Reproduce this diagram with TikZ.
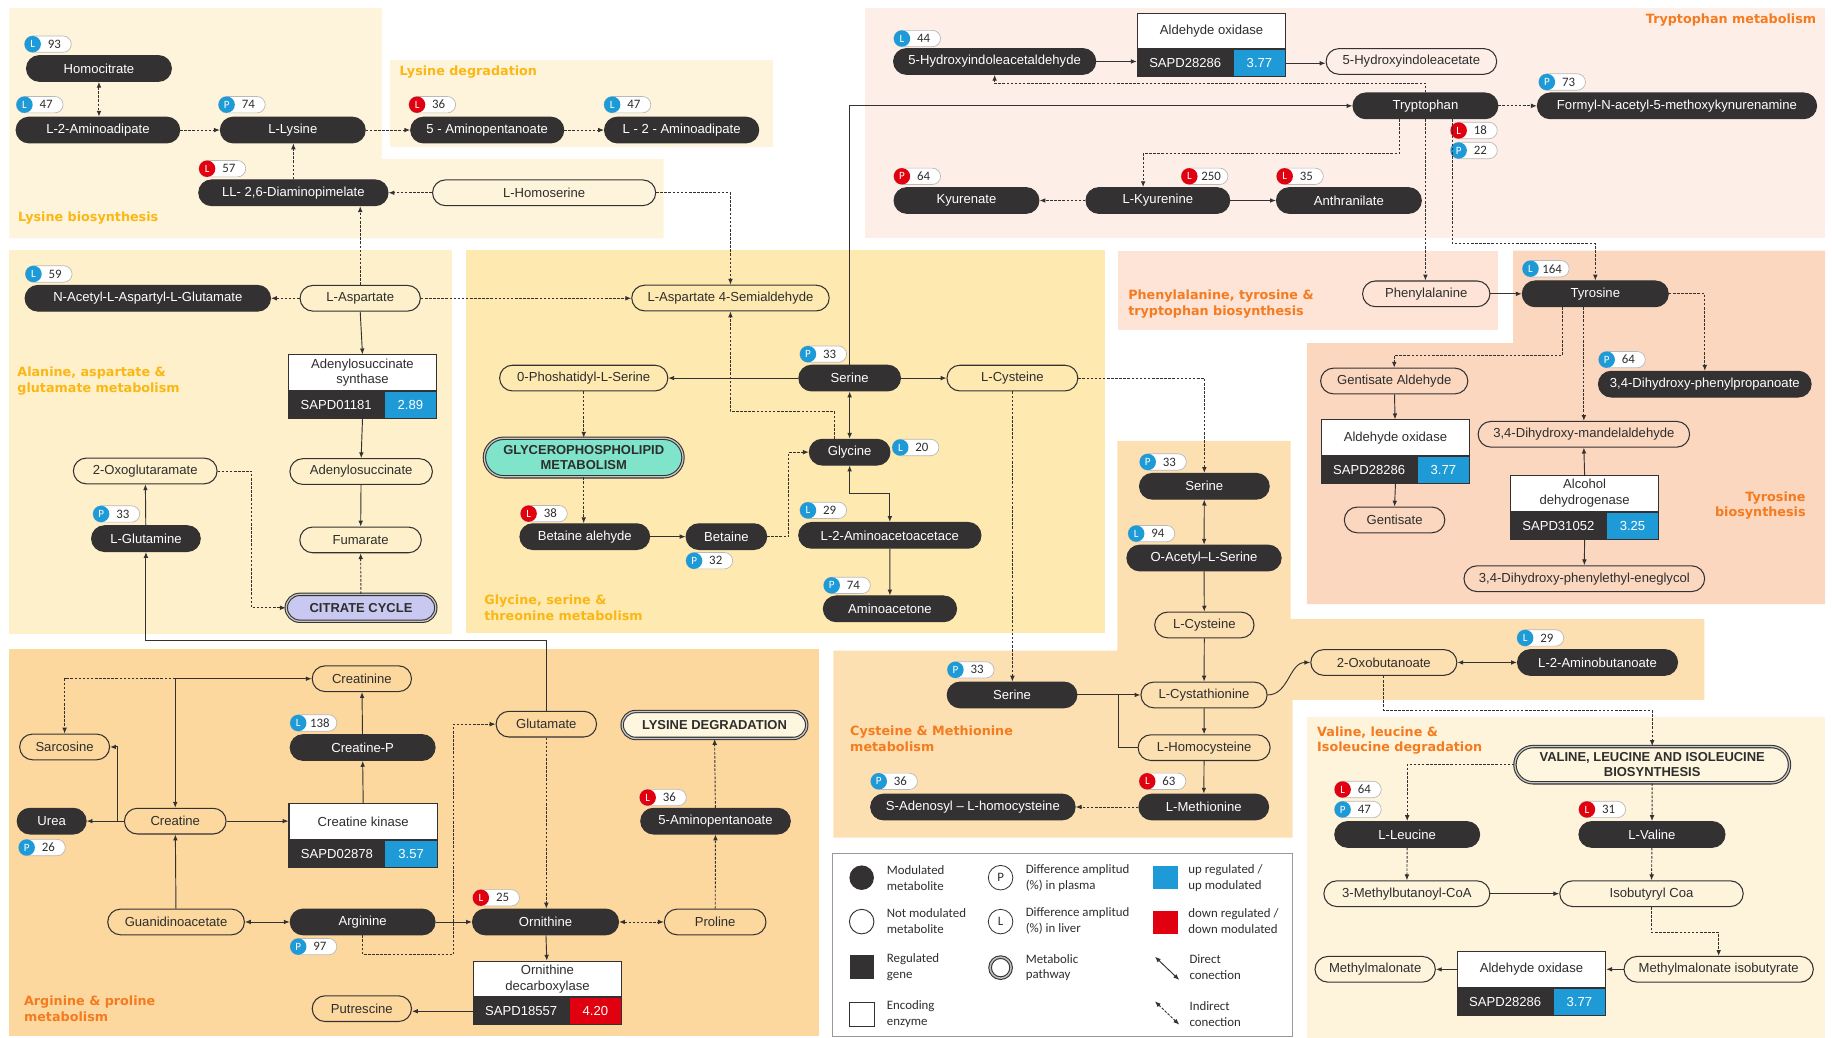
\documentclass[tikz,border=0pt]{standalone}
\usepackage{fontspec}
\setmainfont{Liberation Sans}
\newfontfamily\djv{DejaVu Sans}
\newfontfamily\carl{Carlito}
\usetikzlibrary{arrows.meta,calc}
\definecolor{dkc}{HTML}{333132}
\definecolor{txc}{HTML}{2E2E2E}
\definecolor{blu}{HTML}{1E9BD7}
\definecolor{rdd}{HTML}{E1000F}
\definecolor{ylw}{HTML}{FBB713}
\definecolor{org}{HTML}{F47B20}
\definecolor{bgLys}{HTML}{FEF4DC}
\definecolor{bgTrp}{HTML}{FDEFE7}
\definecolor{bgAla}{HTML}{FEF0CA}
\definecolor{bgGly}{HTML}{FEE9B0}
\definecolor{bgPhe}{HTML}{FDE4D6}
\definecolor{bgTyr}{HTML}{FCD7BF}
\definecolor{bgCys}{HTML}{FDE0B1}
\definecolor{bgArg}{HTML}{FDD89E}
\definecolor{bgVal}{HTML}{FEF3DB}
\definecolor{lav}{HTML}{C8C8F0}
\definecolor{teal}{HTML}{80E4CA}
\definecolor{crm}{HTML}{FEF6DE}
\newcommand{\fnode}{\fontsize{11.2}{13.4}\selectfont}
\newcommand{\fpath}{\fontsize{11.1}{13.4}\selectfont\bfseries}
\newcommand{\ftitle}{\djv\bfseries\fontsize{10.9}{13.4}\selectfont}
\newcommand{\flegend}{\carl\fontsize{11}{13.4}\selectfont}
\newcommand{\fbadge}{\carl\fontsize{11}{12}\selectfont}
\newcommand{\fbadgel}{\carl\fontsize{9.5}{10}\selectfont}
\newcommand{\bdg}[6]{%
  \node[bpill] (#1) at (#2+20,#3) {};
  \node[bcirc, fill=#5] (#1c) at (#2+7,#3) {#4};
  \node[bnum] (#1n) at (#2+25.5,#3) {#6};
}
\newcommand{\enz}[7]{%
  \node[enzt, anchor=north west] (#1) at (#2,#3) {#4};
  \node[enzg, anchor=north west] (#1g) at (#1.south west) {#5};
  \node[enzv, fill=#7, anchor=north east] (#1v) at (#1.south east) {#6};
}
\tikzset{
  >={Latex[length=5pt,width=4pt]},
  metb/.style={rectangle, rounded corners=11pt, minimum height=22pt, inner sep=0pt, font=\fnode},
  dk/.style={metb, fill=dkc, draw=dkc, line width=0.9pt, text=white, minimum width=#1pt},
  lt/.style={metb, draw=dkc, line width=0.9pt, text=txc, minimum width=#1pt},
  pw/.style={rectangle, draw=dkc, line width=0.9pt, double=gray!45, double distance=1.1pt, inner sep=0pt, align=center, font=\fpath, text=txc},
  sol/.style={draw=dkc, line width=0.8pt},
  dsh/.style={draw=dkc, line width=0.8pt, dash pattern=on 2.2pt off 1.3pt},
  bpill/.style={rectangle, rounded corners=7pt, minimum width=40pt, minimum height=14pt, inner sep=0pt, fill=white, draw=gray!55, line width=0.6pt},
  bcirc/.style={circle, minimum size=14pt, inner sep=0pt, text=white, font=\fbadgel},
  bnum/.style={inner sep=0pt, text=txc, font=\fbadge},
  enzt/.style={rectangle, draw=dkc, fill=white, line width=0.9pt, minimum width=127pt, minimum height=30.5pt, inner sep=0pt, align=center, font=\fnode, text=txc},
  enzg/.style={rectangle, draw=dkc, fill=dkc, line width=0.9pt, minimum width=82pt, minimum height=23pt, inner sep=0pt, font=\fnode, text=white},
  enzv/.style={rectangle, draw=dkc, line width=0.9pt, minimum width=45pt, minimum height=23pt, inner sep=0pt, font=\fnode, text=white},
  ttl/.style={font=\ftitle, inner sep=0pt},
  lgt/.style={font=\flegend, text=txc, align=left, anchor=west, inner sep=0pt},
}
\begin{document}
\begin{tikzpicture}[x=1pt,y=-1pt]
\useasboundingbox (0,0) rectangle (1568,888);
% backgrounds
\fill[bgLys] (8,7) -- (327,7) -- (327,136) -- (568,136) -- (568,204) -- (8,204) -- cycle;
\fill[bgLys] (334,51) rectangle (662,126);
\fill[bgTrp] (740,7) rectangle (1562,204);
\fill[bgAla] (8,214) rectangle (387,542.6);
\fill[bgGly] (399,214) rectangle (945.5,541.8);
\fill[bgPhe] (956.6,214.5) rectangle (1282,282.4);
\fill[bgTyr] (1295,214.5) -- (1562,214.5) -- (1562,517) -- (1118.5,517) -- (1118.5,293.6) -- (1295,293.6) -- cycle;
\fill[bgCys] (956.3,377.4) -- (1104.6,377.4) -- (1104.6,529.8) -- (1458.8,529.8) -- (1458.8,599) -- (1106.4,599) -- (1106.4,717) -- (713.2,717) -- (713.2,556.9) -- (956.3,556.9) -- cycle;
\fill[bgArg] (7.7,555.7) rectangle (701,887);
\fill[bgVal] (1119,613.4) rectangle (1562,888);
\draw[gray!80, line width=0.8pt, fill=white] (712.7,730.3) rectangle (1106,886.7);

% titles
\node[ttl, text=ylw, anchor=west] (tLysB) at (15.3,186.9) {Lysine biosynthesis};
\node[ttl, text=ylw, anchor=west] (tLysD) at (341.9,61.3) {Lysine degradation};
\node[ttl, text=org, anchor=east] (tTrp) at (1554.6,17.1) {Tryptophan metabolism};
\node[ttl, text=ylw, anchor=west, align=left] (tAla) at (14.7,326.3) {Alanine, aspartate \&\\glutamate metabolism};
\node[ttl, text=ylw, anchor=west, align=left] (tGly) at (414.3,520.2) {Glycine, serine \&\\threonine metabolism};
\node[ttl, text=org, anchor=west, align=left] (tPhe) at (965.5,260.2) {Phenylalanine, tyrosine \&\\tryptophan biosynthesis};
\node[ttl, text=org, anchor=east, align=right] (tTyr) at (1545.6,432.6) {Tyrosine\\biosynthesis};
\node[ttl, text=org, anchor=west, align=left] (tCys) at (727.5,632.4) {Cysteine \& Methionine\\metabolism};
\node[ttl, text=org, anchor=west, align=left] (tVal) at (1127.2,633.8) {Valine, leucine \&\\Isoleucine degradation};
\node[ttl, text=org, anchor=west, align=left] (tArg) at (20.4,863.3) {Arginine \& proline\\metabolism};

% lysine
\node[dk=124] (homocit) at (84.7,58.6) {Homocitrate};
\node[dk=140] (aad1) at (83.8,111.3) {L-2-Aminoadipate};
\node[dk=124] (lys) at (250.6,111.3) {L-Lysine};
\node[dk=131] (amp1) at (417,111.3) {5 - Aminopentanoate};
\node[dk=132] (aad2) at (583.4,111.3) {L - 2 - Aminoadipate};
\node[dk=162] (dap) at (251.1,165) {LL- 2,6-Diaminopimelate};
\node[lt=191] (hser) at (465.7,165) {L-Homoserine};
% tryptophan
\node[dk=173] (hiaald) at (851.3,52.6) {5-Hydroxyindoleacetaldehyde};
\enz{E1}{973}{10.8}{Aldehyde oxidase}{SAPD28286}{3.77}{blu}
\node[lt=146] (hiaa) at (1208,52.6) {5-Hydroxyindoleacetate};
\node[dk=124] (trp) at (1220,90.6) {Tryptophan};
\node[dk=239] (formyl) at (1435.3,90.6) {Formyl-N-acetyl-5-methoxykynurenamine};
\node[dk=124] (kyna) at (827.2,171.6) {Kyurenate};
\node[dk=123] (kyn) at (991,171.6) {L-Kyurenine};
\node[dk=124] (anth) at (1154.5,171.6) {Anthranilate};
% alanine
\node[dk=210] (nacetyl) at (126.5,255.3) {N-Acetyl-L-Aspartyl-L-Glutamate};
\node[lt=103] (asp) at (308.3,255.3) {L-Aspartate};
\enz{E2}{246.3}{303.3}{Adenylosuccinate\\synthase}{SAPD01181}{2.89}{blu}
\node[lt=122] (adsucc) at (309.1,403.6) {Adenylosuccinate};
\node[lt=104] (fum) at (308.6,462.1) {Fumarate};
\node[pw, fill=lav, rounded corners=11.5pt, minimum width=128pt, minimum height=23pt] (tca) at (309,520.2) {CITRATE CYCLE};
\node[lt=123] (oxoglu) at (124.3,403.1) {2-Oxoglutaramate};
\node[dk=93] (gln) at (124.9,461) {L-Glutamine};
% glycine
\node[lt=169] (asa) at (625.2,255.1) {L-Aspartate 4-Semialdehyde};
\node[lt=144] (pser) at (499.6,323.6) {0-Phoshatidyl-L-Serine};
\node[dk=87] (ser1) at (727.2,323.6) {Serine};
\node[lt=112] (cys1) at (866.5,323.6) {L-Cysteine};
\node[pw, fill=teal, rounded corners=16.5pt, minimum width=170pt, minimum height=33pt] (gpl) at (499.6,391.6) {GLYCEROPHOSPHOLIPID\\METABOLISM};
\node[dk=69] (gly) at (727.2,387) {Glycine};
\node[dk=111] (betald) at (500.5,459.3) {Betaine alehyde};
\node[dk=69] (bet) at (621.7,459.3) {Betaine};
\node[dk=156] (aaa) at (761.6,458.2) {L-2-Aminoacetoacetace};
\node[dk=114] (aac) at (761.7,521.1) {Aminoacetone};
% phe / tyr
\node[lt=109] (phe) at (1220.7,251.5) {Phenylalanine};
\node[dk=125] (tyr) at (1365.4,251.5) {Tyrosine};
\node[lt=126] (gald) at (1193.3,326.1) {Gentisate Aldehyde};
\enz{E3}{1130.4}{358.9}{Aldehyde oxidase}{SAPD28286}{3.77}{blu}
\node[lt=86] (gent) at (1193.6,445) {Gentisate};
\node[dk=182] (dhpp) at (1459.1,328.8) {3,4-Dihydroxy-phenylpropanoate};
\node[lt=181] (dhma) at (1355.6,371.7) {3,4-Dihydroxy-mandelaldehyde};
\enz{E4}{1292.3}{406.5}{Alcohol\\dehydrogenase}{SAPD31052}{3.25}{blu}
\node[lt=206] (dhpg) at (1356,495.3) {3,4-Dihydroxy-phenylethyl-eneglycol};
% cysteine
\node[dk=111] (ser2) at (1030.8,416.2) {Serine};
\node[dk=132] (oas) at (1030.5,477.6) {O-Acetyl–L-Serine};
\node[lt=85] (cys2) at (1030.8,534.9) {L-Cysteine};
\node[dk=111] (ser3) at (866.2,594.8) {Serine};
\node[lt=108] (cysta) at (1030.5,594.8) {L-Cystathionine};
\node[lt=113] (hcys) at (1030.6,639.9) {L-Homocysteine};
\node[dk=111] (met) at (1030.3,690.7) {L-Methionine};
\node[dk=175] (sah) at (832.7,690.7) {S-Adenosyl – L-homocysteine};
\node[lt=125] (oxob) at (1184.4,567) {2-Oxobutanoate};
\node[dk=137] (aba) at (1367.3,567) {L-2-Aminobutanoate};
% valine
\node[pw, fill=crm, rounded corners=15.5pt, minimum width=235pt, minimum height=31pt] (bcaa) at (1414.1,654.5) {VALINE, LEUCINE AND ISOLEUCINE\\BIOSYNTHESIS};
\node[dk=124] (leu) at (1204.4,714.2) {L-Leucine};
\node[dk=125] (val) at (1413.9,714.2) {L-Valine};
\node[lt=142] (mbcoa) at (1204.1,764.9) {3-Methylbutanoyl-CoA};
\node[lt=157] (ibcoa) at (1413.5,764.9) {Isobutyryl Coa};
\node[lt=103] (mma) at (1177,829.6) {Methylmalonate};
\enz{E7}{1246.8}{814}{Aldehyde oxidase}{SAPD28286}{3.77}{blu}
\node[lt=162] (mmib) at (1471,829.6) {Methylmalonate isobutyrate};
% arginine
\node[lt=85] (crn) at (309.7,580.9) {Creatinine};
\node[lt=77] (sar) at (55.3,639.3) {Sarcosine};
\node[dk=124] (crp) at (310.4,639.8) {Creatine-P};
\node[lt=86] (glu) at (467.6,619.8) {Glutamate};
\node[pw, fill=crm, rounded corners=11.5pt, minimum width=158pt, minimum height=23pt] (lysdeg) at (611.5,620.5) {LYSINE DEGRADATION};
\node[dk=59] (urea) at (44.2,702.8) {Urea};
\node[lt=87] (cr) at (150,702.8) {Creatine};
\enz{E5}{246.9}{687.5}{Creatine kinase}{SAPD02878}{3.57}{blu}
\node[dk=128] (amp2) at (612.4,702.8) {5-Aminopentanoate};
\node[lt=117] (gaa) at (150.7,789.1) {Guanidinoacetate};
\node[dk=124] (arg) at (310.4,789.1) {Arginine};
\node[dk=125] (orn) at (466.9,789.1) {Ornithine};
\node[lt=87] (pro) at (612.1,789.1) {Proline};
\enz{E6}{404.6}{822.2}{Ornithine\\decarboxylase}{SAPD18557}{4.20}{rdd}
\node[lt=85] (put) at (309.7,863.3) {Putrescine};

% badges
\bdg{b1}{21}{37.8}{L}{blu}{93}
\bdg{b2}{14}{89.6}{L}{blu}{47}
\bdg{b3}{187}{89.6}{P}{blu}{74}
\bdg{b4}{350}{89.6}{L}{rdd}{36}
\bdg{b5}{517}{89.6}{L}{blu}{47}
\bdg{b6}{170.3}{144.4}{L}{rdd}{57}
\bdg{b7}{765}{33}{L}{blu}{44}
\bdg{b8}{1317}{70.2}{P}{blu}{73}
\bdg{b9}{1241.5}{111.7}{L}{rdd}{18}
\bdg{b10}{1241.5}{128.8}{P}{blu}{22}
\bdg{b11}{765}{150.9}{P}{rdd}{64}
\bdg{b12}{1011}{150.9}{L}{rdd}{250}
\bdg{b13}{1092.6}{150.9}{L}{rdd}{35}
\bdg{b14}{21.7}{234.5}{L}{blu}{59}
\bdg{b15}{79.6}{439.9}{P}{blu}{33}
\bdg{b16}{684.6}{303.1}{P}{blu}{33}
\bdg{b17}{763.6}{383}{L}{blu}{20}
\bdg{b18}{445.5}{439.6}{L}{rdd}{38}
\bdg{b19}{587.1}{479.9}{P}{blu}{32}
\bdg{b20}{684.6}{436.8}{L}{blu}{29}
\bdg{b21}{704.9}{501}{P}{blu}{74}
\bdg{b22}{1303}{230}{L}{blu}{164}
\bdg{b23}{1368.2}{307.8}{P}{blu}{64}
\bdg{b24}{975.4}{395.4}{P}{blu}{33}
\bdg{b25}{965.5}{456.7}{L}{blu}{94}
\bdg{b26}{810.8}{573.3}{P}{blu}{33}
\bdg{b27}{975}{668.7}{L}{rdd}{63}
\bdg{b28}{745.2}{668.7}{P}{blu}{36}
\bdg{b29}{1298.4}{546}{L}{blu}{29}
\bdg{b30}{1142.2}{675.7}{L}{rdd}{64}
\bdg{b31}{1142.2}{692.8}{P}{blu}{47}
\bdg{b32}{1351.3}{692.8}{L}{rdd}{31}
\bdg{b33}{248.3}{618.8}{L}{blu}{138}
\bdg{b34}{15.9}{725.4}{P}{blu}{26}
\bdg{b35}{547.4}{682.6}{L}{rdd}{36}
\bdg{b36}{248.3}{810.2}{P}{blu}{97}
\bdg{b37}{404.6}{768.4}{L}{rdd}{25}

% connectors: lysine
\draw[dsh,<->] (homocit.south) -- (homocit.south |- aad1.north);
\draw[dsh,->] (aad1) -- (lys);
\draw[dsh,->] (lys) -- (amp1);
\draw[dsh,->] (amp1) -- (aad2);
\draw[dsh,->] (dap.north) -- (dap.north |- lys.south);
\draw[dsh,->] (hser) -- (dap);
\draw[dsh,->] (hser.east) -| (asa.north);
\draw[dsh,->] (asp.north) -- (asp.north |- dap.south);
% tryptophan
\draw[sol,->] (hiaald.east) -- (hiaald.east -| E1g.west);
\draw[sol,->] (E1v.east) -- (E1v.east -| hiaa.west);
\draw[dsh,->] (trp.north) -- ++(0,-7.7) -| (hiaald.south);
\draw[dsh,->] (trp) -- (formyl);
\draw[sol,->] (ser1.north) |- (trp.west);
\draw[dsh,->] ([xshift=-22.3pt]trp.south) -- ++(0,29.6) -| ([xshift=-12.6pt]kyn.north);
\draw[dsh,->] (kyn) -- (kyna);
\draw[sol,->] (kyn) -- (anth);
\draw[dsh,->] (trp.south) -- (trp.south |- phe.north);
\draw[dsh,->] ([xshift=23pt]trp.south) |- ($(tyr.north)+(0,-31.5)$) -- (tyr.north);
% alanine
\draw[dsh,->] (asp) -- (nacetyl);
\draw[dsh,->] (asp.east) -- (asp.east -| asa.west);
\draw[sol,->] (asp.south) -- (E2.north);
\draw[sol,->] (E2.center |- E2g.south) -- (adsucc.north);
\draw[sol,->] (adsucc) -- (fum);
\draw[dsh,->] (tca) -- (fum);
\draw[dsh,->] (oxoglu.east) -- ++(29,0) |- (tca.west);
\draw[sol,->] (gln) -- (oxoglu);
\draw[sol,->] (glu.north) -- ++(0,-60.2) -| (gln.south);
% glycine
\draw[sol,->] (ser1) -- (pser);
\draw[sol,->] (ser1) -- (cys1);
\draw[sol,<->] (ser1) -- (gly);
\draw[dsh,->] ([xshift=-13.1pt]gly.north) -- ++(0,-23.1) -| (asa.south);
\draw[dsh,->] (pser) -- (gpl);
\draw[dsh,->] (gpl.south) -- (gpl.south |- betald.north);
\draw[sol,->] (betald) -- (bet);
\draw[dsh,->] (bet.east) -- ++(18.6,0) |- (gly.west);
\draw[sol,<->] (gly.south) -- ++(0,24.2) -| (aaa.north);
\draw[sol,->] (aaa) -- (aac);
\draw[dsh,->] (cys1.east) -| (ser2.north);
\draw[dsh,->] (cys1.south) -- (cys1.south |- ser3.north);
% tyrosine
\draw[sol,->] (phe) -- (tyr);
\draw[dsh,->] ([xshift=-28.4pt]tyr.south) -- ++(0,41.3) -| (gald.north);
\draw[dsh,->] (dhma.north |- tyr.south) -- (dhma.north);
\draw[dsh,->] (tyr.east) -| (dhpp.north);
\draw[sol,->] (gald) -- (E3);
\draw[sol,->] (E3.center |- E3g.south) -- (gent.north);
\draw[sol,->] (E4.north) -- (dhma.south);
\draw[sol,->] (E4.center |- E4g.south) -- (dhpg.north);
% cysteine
\draw[sol,<->] (ser2) -- (oas);
\draw[sol,->] (oas) -- (cys2);
\draw[sol,->] (cys2) -- (cysta);
\draw[sol,->] (ser3) -- (cysta);
\coordinate (j1) at (957.1,594.8);
\draw[sol] (hcys.west) -| (j1);
\draw[sol,->] (cysta) -- (hcys);
\draw[sol,->] (hcys) -- (met);
\draw[dsh,->] (met) -- (sah);
\draw[sol,->] (cysta.east) to[out=0,in=180] (oxob.west);
\draw[sol,<->] (oxob) -- (aba);
\draw[dsh,->] (oxob.south) -- ++(0,29.7) -| (bcaa.north);
% valine
\draw[dsh,->] (bcaa.west) -| (leu.north);
\draw[dsh,->] (bcaa) -- (val);
\draw[dsh,->] (leu) -- (mbcoa);
\draw[dsh,->] (val) -- (ibcoa);
\draw[sol,->] (mbcoa) -- (ibcoa);
\draw[dsh,->] (ibcoa.south) -- ++(0,21.5) -| (mmib.north);
\draw[sol,->] (mmib.west) -- (mmib.west -| E7.east);
\draw[sol,->] (E7.west) -- (E7.west -| mma.east);
% arginine
\coordinate (j2) at (100.6,702.8);
\draw[sol,->] (cr) -- (urea);
\draw[sol,->] (j2) |- (sar.east);
\draw[sol,<->] (cr.north) |- (crn.west);
\draw[dsh,->] (cr.north |- crn.west) -| (sar.north);
\draw[sol,->] (cr.east) -- (cr.east -| E5.west);
\draw[sol,->] (E5.north) -- (crp.south);
\draw[sol,->] (crp) -- (crn);
\draw[sol,->] (gaa) -- (cr);
\draw[sol,<->] (gaa) -- (arg);
\draw[sol,->] (arg) -- (orn);
\draw[dsh,->] (arg.south) -- ++(0,16.4) -- ++(78,0) |- (glu.west);
\draw[dsh,->] (glu.south) -- (glu.south |- orn.north);
\draw[dsh,<->] (orn) -- (pro);
\draw[sol,->] (orn) -- (E6);
\draw[sol,->] (E6g.west) -- (E6g.west -| put.east);
\draw[dsh,->] (pro) -- (amp2);
\draw[dsh,->] (amp2) -- (lysdeg);

% legend
\node[circle, fill=dkc, minimum size=21pt, inner sep=0pt] (lg1) at (737.5,751.2) {};
\node[lgt] (lg1t) at (758.9,751.3) {Modulated\\metabolite};
\node[circle, draw=dkc, line width=0.8pt, minimum size=21pt, inner sep=0pt] (lg2) at (737.5,788.8) {};
\node[lgt] (lg2t) at (758.9,788.4) {Not modulated\\metabolite};
\node[rectangle, fill=dkc, minimum width=21pt, minimum height=20.5pt, inner sep=0pt] (lg3) at (737.9,827.6) {};
\node[lgt] (lg3t) at (758.9,828) {Regulated\\gene};
\node[rectangle, draw=dkc, fill=white, line width=0.8pt, minimum width=21pt, minimum height=20.5pt, inner sep=0pt] (lg4) at (737.9,868.4) {};
\node[lgt] (lg4t) at (758.9,867.7) {Encoding\\enzyme};
\node[circle, draw=dkc, line width=0.7pt, minimum size=21pt, inner sep=0pt, font=\flegend, text=txc] (lg5) at (856.4,751.2) {P};
\node[lgt] (lg5t) at (877.8,751.3) {Difference amplitud\\(\%) in plasma};
\node[circle, draw=dkc, line width=0.7pt, minimum size=21pt, inner sep=0pt, font=\flegend, text=txc] (lg6) at (856.4,788.8) {L};
\node[lgt] (lg6t) at (877.8,788.4) {Difference amplitud\\(\%) in liver};
\node[circle, draw=dkc, line width=0.9pt, double=gray!50, double distance=1.3pt, minimum size=18pt, inner sep=0pt] (lg7) at (856.4,828.2) {};
\node[lgt] (lg7t) at (877.8,828) {Metabolic\\pathway};
\node[rectangle, fill=blu, minimum width=21.4pt, minimum height=20pt, inner sep=0pt] (lg8) at (997.8,751.2) {};
\node[lgt] (lg8t) at (1017,751.3) {up regulated /\\up modulated};
\node[rectangle, fill=rdd, minimum width=21.4pt, minimum height=20pt, inner sep=0pt] (lg9) at (997.8,789.3) {};
\node[lgt] (lg9t) at (1017,788.4) {down regulated /\\down modulated};
\coordinate (lgA1) at (988.5,818.8);
\coordinate (lgA2) at (1009.3,838.7);
\draw[sol,<->] (lgA1) -- (lgA2);
\node[lgt] (lgAt) at (1017.9,828) {Direct\\conection};
\coordinate (lgB1) at (988.5,857);
\coordinate (lgB2) at (1009.3,877);
\draw[dsh,<->] (lgB1) -- (lgB2);
\node[lgt] (lgBt) at (1017.9,867.7) {Indirect\\conection};
\end{tikzpicture}
\end{document}
